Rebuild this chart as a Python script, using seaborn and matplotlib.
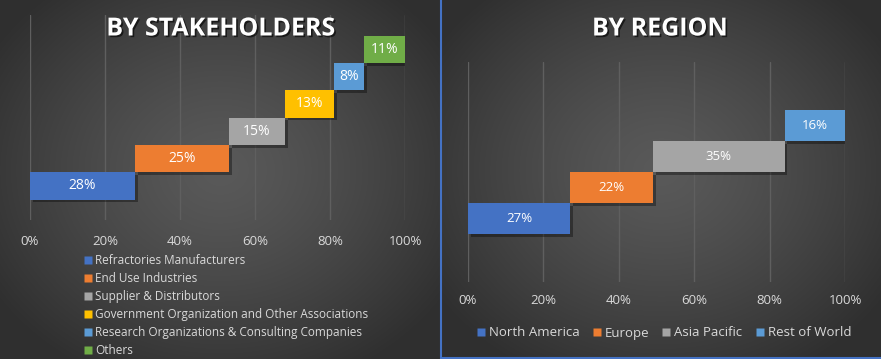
import numpy as np
import pandas as pd
import matplotlib
matplotlib.use("Agg")
import matplotlib.pyplot as plt
import matplotlib.patheffects as pe
from matplotlib.lines import Line2D
import seaborn as sns

# data
stake_labels = ["Refractories Manufacturers", "End Use Industries", "Supplier & Distributors",
                "Government Organization and Other Associations",
                "Research Organizations & Consulting Companies", "Others"]
stake_share = [28, 25, 15, 13, 8, 11]
stake_colors = ["#4472C4", "#ED7D31", "#A5A5A5", "#FFC000", "#5B9BD5", "#70AD47"]

region_labels = ["North America", "Europe", "Asia Pacific", "Rest of World"]
region_share = [27, 22, 35, 16]
region_colors = ["#4472C4", "#ED7D31", "#A5A5A5", "#5B9BD5"]

pct_ticks = [0, 20, 40, 60, 80, 100]

sns.set_theme(style="white")
plt.rcParams["font.family"] = ["Open Sans", "DejaVu Sans"]

W, H = 881, 359
fig = plt.figure(figsize=(W / 100, H / 100), dpi=100)

# dark radial background, one per panel
bg = fig.add_axes([0, 0, 1, 1], zorder=-5)
yy, xx = np.mgrid[0:H, 0:W]
img = np.zeros((H, W))
for x0, x1, cx in [(0, 441, 220), (441, W, 661)]:
    m = (xx >= x0) & (xx < x1)
    r = np.sqrt(((xx - cx) / 270.0) ** 2 + ((yy - 170) / 230.0) ** 2)
    v = 0.35 - (0.35 - 0.185) * np.clip(r, 0, 1) ** 1.3
    img[m] = v[m]
bg.imshow(np.dstack([img, img, img]), extent=[0, W, H, 0], aspect="auto")
bg.plot([441, 441], [0, H], color="#4472C4", lw=1.5)
bg.plot([441, W], [357.5, 357.5], color="#4472C4", lw=1.5)
bg.set_xlim(0, W)
bg.set_ylim(H, 0)
bg.axis("off")


def px_axes(x0, y0, x1, y1):
    return fig.add_axes([x0 / W, 1 - y1 / H, (x1 - x0) / W, (y1 - y0) / H])


def draw_panel(ax, labels, shares, colors, pad, lab_size, tick_pad):
    df = pd.DataFrame({"label": labels, "share": shares})
    df["end"] = df["share"].cumsum()
    df["start"] = df["end"] - df["share"]
    sns.barplot(data=df, x="end", y="label", hue="label", order=labels, hue_order=labels,
                palette=colors, width=1.0, saturation=1, legend=False, orient="h", ax=ax)
    for p in ax.patches:
        i = int(round(p.get_y() + p.get_height() / 2))
        p.set_x(df["start"][i])
        p.set_width(df["share"][i])
        p.set_edgecolor("none")
        p.set_path_effects([pe.SimplePatchShadow(offset=(2, -2), shadow_rgbFace="black", alpha=0.35),
                            pe.Normal()])
        ax.text(df["start"][i] + df["share"][i] / 2, i, f"{df['share'][i]}%", ha="center",
                va="center", color="white", fontsize=lab_size)
    n = len(labels)
    ax.set_xlim(0, 100)
    ax.set_ylim(-0.5 - pad, n - 0.5 + pad)
    ax.set_xticks(pct_ticks)
    ax.set_xticklabels([f"{t}%" for t in pct_ticks])
    ax.set_yticks([])
    ax.set_xlabel("")
    ax.set_ylabel("")
    ax.set_facecolor("none")
    ax.xaxis.grid(True, color="#5f5f5f", lw=1)
    ax.set_axisbelow(True)
    for s in ax.spines.values():
        s.set_visible(False)
    ax.tick_params(axis="x", length=0, pad=tick_pad, labelsize=9.5, labelcolor="#d9d9d9")


ax1 = px_axes(30, 15, 405, 220)
draw_panel(ax1, stake_labels, stake_share, stake_colors, 0.75, 10, 11)

ax2 = px_axes(468, 62, 845, 282)
draw_panel(ax2, region_labels, region_share, region_colors, 1.55, 9.5, 9)

shadow = [pe.SimplePatchShadow(offset=(1.2, -1.2), shadow_rgbFace="black", alpha=0.6), pe.Normal()]
fig.text(221 / W, 1 - 29 / H, "BY STAKEHOLDERS", ha="center", va="center", fontsize=18,
         fontweight="bold", color="white", path_effects=shadow)
fig.text(660 / W, 1 - 29 / H, "BY REGION", ha="center", va="center", fontsize=18,
         fontweight="bold", color="white", path_effects=shadow)


def square_handles(colors):
    return [Line2D([0], [0], marker="s", color="none", markerfacecolor=c,
                   markeredgecolor="none", markersize=6) for c in colors]


fig.legend(square_handles(stake_colors), stake_labels, loc="upper left",
           bbox_to_anchor=(84 / W, 1 - 254 / H), frameon=False, labelcolor="#d9d9d9",
           fontsize=8.5, handlelength=0.6, handletextpad=0.35, labelspacing=0.42,
           borderpad=0, borderaxespad=0)
fig.legend(square_handles(region_colors), region_labels, loc="center",
           bbox_to_anchor=(664 / W, 1 - 333 / H), frameon=False, labelcolor="#d9d9d9",
           fontsize=9.5, ncol=4, handlelength=0.6, handletextpad=0.3, columnspacing=1.0,
           borderpad=0, borderaxespad=0)

fig.savefig("out.png", dpi=100)
